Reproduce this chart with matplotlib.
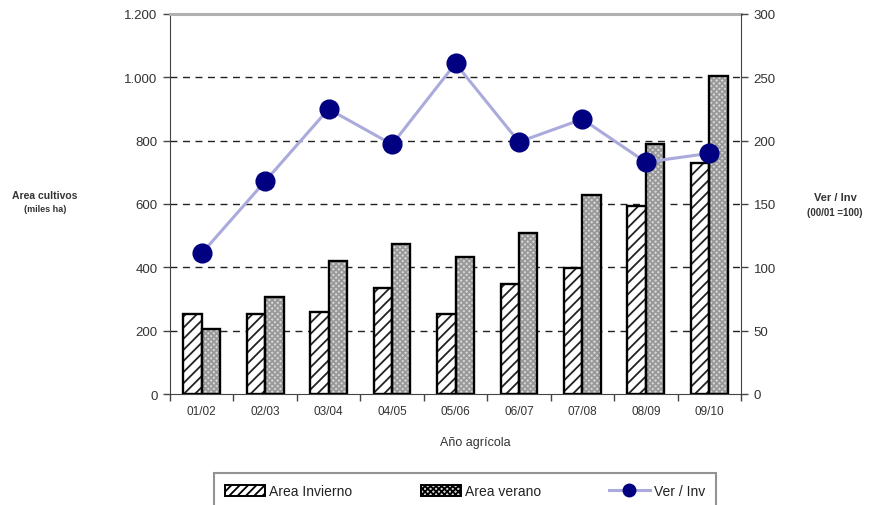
import matplotlib
matplotlib.use("Agg")
import matplotlib.pyplot as plt
import numpy as np
from matplotlib.patches import Patch
from matplotlib.lines import Line2D

plt.rcParams['font.family'] = ['Liberation Sans', 'DejaVu Sans']
plt.rcParams['hatch.linewidth'] = 1.3

# Campaigns (agricultural years)
years = ["01/02", "02/03", "03/04", "04/05", "05/06", "06/07", "07/08", "08/09", "09/10"]
# Cultivated area, thousand ha
area_invierno = [253, 253, 260, 334, 253, 347, 397, 595, 728]
area_verano = [205, 305, 419, 474, 432, 507, 628, 789, 1003]
# Summer / winter ratio index (00/01 = 100)
ver_inv = [111, 168, 225, 197, 261, 199, 217, 183, 190]

left_ticks = [0, 200, 400, 600, 800, 1000, 1200]
left_ticklabels = ["0", "200", "400", "600", "800", "1.000", "1.200"]
right_ticks = [0, 50, 100, 150, 200, 250, 300]

fig = plt.figure(figsize=(8.8, 5.06), dpi=100)
ax = fig.add_axes([170 / 880, 1 - 395 / 506, 571 / 880, 380 / 506])
ax2 = ax.twinx()

x = np.arange(len(years))
w = 0.29
txt = '#333333'

# grid lines
for v in left_ticks[1:-1]:
    ax.axhline(v, color='#222222', lw=1.0, ls=(0, (5, 4)), zorder=0)

# winter bars: white with diagonal hatch
ax.bar(x - w / 2, area_invierno, w, facecolor='white', edgecolor='#222222',
       hatch='///', linewidth=0, zorder=2)
ax.bar(x - w / 2, area_invierno, w, fill=False, edgecolor='black', linewidth=1.7, zorder=3)
# summer bars: grey stipple
ax.bar(x + w / 2, area_verano, w, facecolor='#d6d6d6', edgecolor='#999999',
       hatch='xxxxxx', linewidth=0, zorder=2)
ax.bar(x + w / 2, area_verano, w, fill=False, edgecolor='black', linewidth=1.7, zorder=3)

ax.set_xlim(-0.5, len(years) - 0.5)
ax.set_ylim(0, 1200)
ax.set_yticks(left_ticks)
ax.set_yticklabels(left_ticklabels)
ax.set_xticks(x)
ax.set_xticklabels(years)
ax.set_xticks(np.arange(len(years) + 1) - 0.5, minor=True)
ax.tick_params(axis='x', which='major', length=0, pad=8, labelsize=8.5, labelcolor=txt)
ax.tick_params(axis='x', which='minor', length=5, width=1, direction='out', color='#444444')
ax.tick_params(axis='y', length=5, width=1, direction='out', pad=4, labelsize=9.5,
               labelcolor=txt, color='#444444')

ax.spines['top'].set_color('#b0b0b0')
ax.spines['top'].set_linewidth(2.2)
ax.spines['left'].set_color('#444444')
ax.spines['bottom'].set_color('#444444')
ax.spines['right'].set_visible(False)

# ratio line
ax2.plot(x, ver_inv, color='#aaaadd', lw=2.2, zorder=4)
ax2.plot(x, ver_inv, ls='none', marker='o', ms=13.5, color='#000080', zorder=5)
ax2.set_ylim(0, 300)
ax2.set_yticks(right_ticks)
ax2.tick_params(axis='y', length=5, width=1, direction='out', pad=4, labelsize=9.5,
                labelcolor=txt, color='#444444')
ax2.spines['right'].set_color('#444444')
ax2.spines['top'].set_visible(False)
ax2.spines['left'].set_visible(False)
ax2.spines['bottom'].set_visible(False)
ax.set_zorder(0)
ax2.set_zorder(1)
ax2.patch.set_visible(False)

fig.text(475 / 880, 1 - 443 / 506, "Año agrícola", ha='center', va='center',
         fontsize=9, color=txt)
fig.text(45 / 880, 1 - 196 / 506, "Area cultivos", ha='center', va='center',
         fontsize=7.5, color=txt, fontweight='bold')
fig.text(45 / 880, 1 - 210 / 506, "(miles ha)", ha='center', va='center',
         fontsize=6.5, color=txt, fontweight='bold')
fig.text(835 / 880, 1 - 198 / 506, "Ver / Inv", ha='center', va='center',
         fontsize=8, color=txt, fontweight='bold')
fig.text(835 / 880, 1 - 213 / 506, "(00/01 =100)", ha='center', va='center',
         fontsize=7, color=txt, fontweight='bold')

handles = [
    Patch(facecolor='white', edgecolor='black', hatch='////', linewidth=1.4),
    Patch(facecolor='#d6d6d6', edgecolor='black', hatch='xxxxxx', linewidth=1.4),
    Line2D([0], [0], color='#aaaadd', lw=2.2, marker='o', ms=9,
           markerfacecolor='#000080', markeredgecolor='#000080'),
]
labels = ["Area Invierno", "Area verano", "Ver / Inv"]
leg = fig.legend(handles, labels, loc='upper center', ncol=3,
                 bbox_to_anchor=(465 / 880, 1 - 467 / 506), frameon=True,
                 fancybox=False, edgecolor='#777777', fontsize=10,
                 handlelength=2.9, handleheight=0.8, columnspacing=4.9,
                 borderpad=0.8, handletextpad=0.3)
leg.get_frame().set_linewidth(1.5)
for t in leg.get_texts():
    t.set_color('#222222')

fig.savefig("out.png", dpi=100)
